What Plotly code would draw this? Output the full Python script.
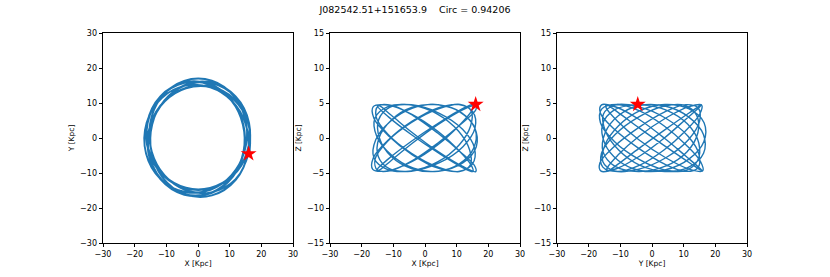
import plotly.graph_objects as go

title_text = "J082542.51+151653.9\u00a0\u00a0\u00a0\u00a0Circ = 0.94206"

orbit_x = [16.33, 16.07, 11.31, 3.97, -3.86, -10.63, -15.06, -15.76, -11.88, -4.36, 4.25, 11.09,
           14.58, 14.39, 10.77, 4.12, -4.29, -11.95, -16.14, -15.56, -10.89, -3.87, 3.88, 10.95,
           15.66, 16.20, 11.93, 4.27, -4.09, -10.72, -14.39, -14.64, -11.17, -4.27, 4.37, 11.86,
           15.66, 14.96, 10.60, 3.87, -3.99, -11.39, -16.14, -16.33, -11.71, -4.12, 3.94, 10.53,
           14.58, 15.16, 11.59, 4.36, -4.35, -11.53, -15.06, -14.52, -10.55, -3.97, 4.14, 11.76,
           16.00, 15.75, 11.08, 3.89, -3.78, -10.42, -14.76, -15.44, -11.64, -4.27, 4.17, 10.87,
           14.29, 14.10, 10.55, 4.04, -4.20, -11.71, -15.82, -15.25, -10.67, -3.79, 3.80, 10.73,
           15.35, 15.88, 11.69, 4.18, -4.01, -10.51, -14.53, -14.79, -11.28, -4.31, 4.41, 11.98,
           15.82, 15.11, 10.71, 3.91, -4.03, -11.50, -16.30, -16.49, -11.83, -4.16, 3.98, 10.64,
           14.73, 15.31, 11.71, 4.40, -4.39, -11.65, -15.21, -14.67, -10.66, -4.01, 4.18, 11.88,
           16.20]
orbit_y = [-4.38, 4.31, 11.31, 14.79, 14.41, 10.63, 4.04, -4.22, -11.88, -16.28, -15.84, -11.09,
           -3.91, 3.86, 10.77, 15.36, 16.01, 11.95, 4.33, -4.17, -10.89, -14.44, -14.48, -10.95,
           -4.20, 4.34, 11.93, 15.93, 15.26, 10.72, 3.86, -3.93, -11.17, -15.93, -16.31, -11.86,
           -4.20, 4.01, 10.60, 14.44, 14.88, 11.39, 4.33, -4.38, -11.71, -15.36, -14.71, -10.53,
           -3.91, 4.06, 11.59, 16.28, 16.24, 11.53, 4.04, -3.89, -10.55, -14.79, -15.46, -11.76,
           -4.29, 4.22, 11.08, 14.49, 14.12, 10.42, 3.96, -4.14, -11.64, -15.95, -15.52, -10.87,
           -3.83, 3.78, 10.55, 15.05, 15.69, 11.71, 4.24, -4.09, -10.67, -14.15, -14.19, -10.73,
           -4.12, 4.25, 11.69, 15.61, 14.95, 10.51, 3.90, -3.97, -11.28, -16.09, -16.47, -11.98,
           -4.24, 4.05, 10.71, 14.58, 15.03, 11.50, 4.37, -4.42, -11.83, -15.51, -14.86, -10.64,
           -3.95, 4.10, 11.71, 16.44, 16.40, 11.65, 4.08, -3.93, -10.66, -14.94, -15.61, -11.88,
           -4.30]
orbit_z = [4.80, 4.03, 1.95, -0.75, -3.21, -4.64, -4.57, -3.02, -0.50, 2.18, 4.16, 4.79,
           3.88, 1.72, -1.00, -3.39, -4.70, -4.48, -2.82, -0.25, 2.40, 4.28, 4.77, 3.73,
           1.48, -1.24, -3.57, -4.74, -4.39, -2.61, 0.00, 2.61, 4.39, 4.74, 3.57, 1.24,
           -1.48, -3.73, -4.77, -4.28, -2.40, 0.25, 2.82, 4.48, 4.70, 3.39, 1.00, -1.72,
           -3.88, -4.79, -4.16, -2.18, 0.50, 3.02, 4.57, 4.64, 3.21, 0.75, -1.95, -4.03,
           -4.80, -4.03, -1.95, 0.75, 3.21, 4.64, 4.57, 3.02, 0.50, -2.18, -4.16, -4.79,
           -3.88, -1.72, 1.00, 3.39, 4.70, 4.48, 2.82, 0.25, -2.40, -4.28, -4.77, -3.73,
           -1.48, 1.24, 3.57, 4.74, 4.39, 2.61, 0.00, -2.61, -4.39, -4.74, -3.57, -1.24,
           1.48, 3.73, 4.77, 4.28, 2.40, -0.25, -2.82, -4.48, -4.70, -3.39, -1.00, 1.72,
           3.88, 4.79, 4.16, 2.18, -0.50, -3.02, -4.57, -4.64, -3.21, -0.75, 1.95, 4.03,
           4.80]

star_x = [16.0]
star_y = [-4.5]
star_z = [4.8]

xy_ticks = [-30, -20, -10, 0, 10, 20, 30]
z_ticks = [-15, -10, -5, 0, 5, 10, 15]

line_color = "#1f77b4"
panels = [
    (orbit_x, orbit_y, star_x, star_y, "X [Kpc]", "Y [Kpc]", [-30, 30], xy_ticks),
    (orbit_x, orbit_z, star_x, star_z, "X [Kpc]", "Z [Kpc]", [-15, 15], z_ticks),
    (orbit_y, orbit_z, star_y, star_z, "Y [Kpc]", "Z [Kpc]", [-15, 15], z_ticks),
]
domains = [[103 / 830, 293 / 830], [330 / 830, 520 / 830], [557 / 830, 747 / 830]]
ydom = [1 - 243 / 277, 1 - 33 / 277]

fig = go.Figure()
layout = dict(
    width=830, height=277, margin=dict(l=0, r=0, t=0, b=0),
    paper_bgcolor="white", plot_bgcolor="white", showlegend=False,
    font=dict(family="DejaVu Sans", size=8, color="black"),
    title=dict(text=title_text, x=0.5, xanchor="center", xref="paper",
               y=1 - 9.5 / 277, yref="container", yanchor="middle",
               font=dict(size=9.5, family="DejaVu Sans", color="black")),
)
for k, (px, py, sx, sy, xl, yl, yr, yt) in enumerate(panels):
    suf = "" if k == 0 else str(k + 1)
    fig.add_trace(go.Scatter(x=px, y=py, mode="lines",
                             line=dict(color=line_color, width=1.4, shape="spline", smoothing=1.0),
                             xaxis="x" + suf, yaxis="y" + suf, hoverinfo="skip"))
    fig.add_trace(go.Scatter(x=sx, y=sy, mode="markers",
                             marker=dict(symbol="star", size=12, color="red", line=dict(width=0)),
                             xaxis="x" + suf, yaxis="y" + suf))
    common = dict(showgrid=False, zeroline=False, showline=True, linecolor="black", linewidth=0.8,
                  mirror=True, ticks="outside", ticklen=3.5, tickwidth=0.8, tickcolor="black",
                  automargin=False, tickfont=dict(size=8, family="DejaVu Sans"))
    layout["xaxis" + suf] = dict(domain=domains[k], range=[-30, 30], tickvals=xy_ticks,
                                 ticktext=[str(v).replace("-", "\u2212") for v in xy_ticks],
                                 title=dict(text=xl, font=dict(size=7.5), standoff=2),
                                 anchor="y" + suf, **common)
    layout["yaxis" + suf] = dict(domain=ydom, range=yr, tickvals=yt,
                                 ticktext=[str(v).replace("-", "\u2212") for v in yt],
                                 title=dict(text=yl, font=dict(size=7.5), standoff=4),
                                 anchor="x" + suf, **common)
fig.update_layout(**layout)
fig.write_html("out.html", config={"displayModeBar": False},
               post_script="document.body.style.margin='0';")
